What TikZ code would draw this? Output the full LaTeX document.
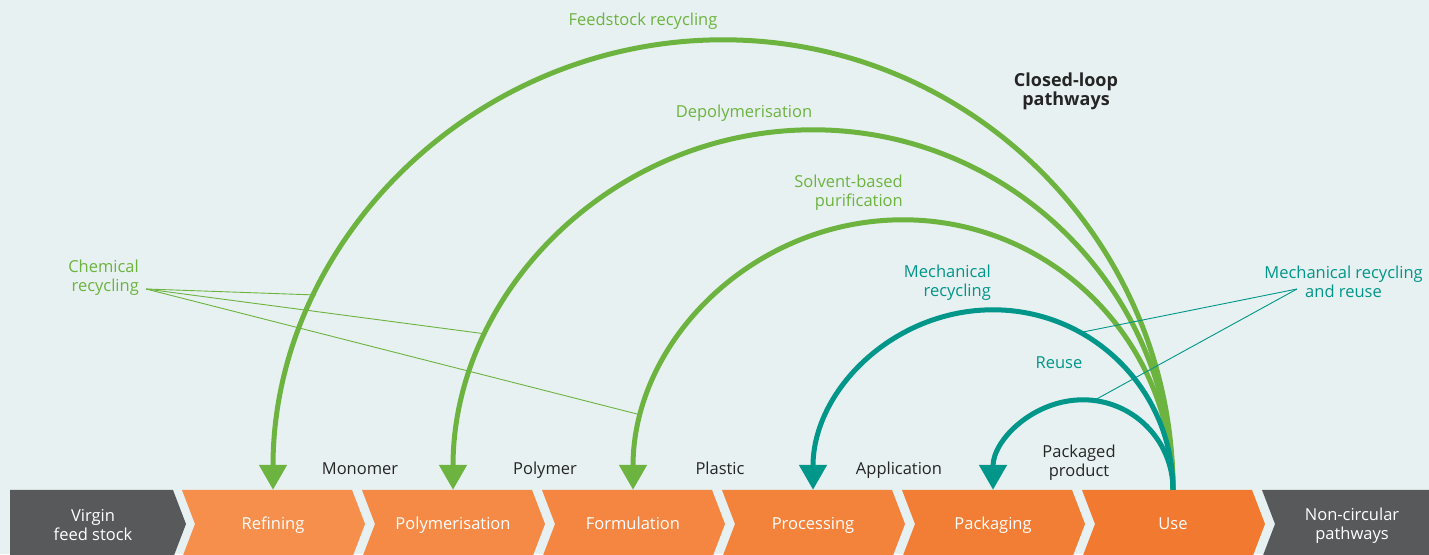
\documentclass[tikz,border=0pt]{standalone}
\usepackage{fontspec}
\setmainfont{Open Sans}
\usepackage{tikz}
\usetikzlibrary{arrows.meta}

\definecolor{bgc}{HTML}{E7F1F1}
\definecolor{grn}{HTML}{6DB33F}
\definecolor{tealc}{HTML}{009689}
\definecolor{darkg}{HTML}{58595B}
\definecolor{txt}{HTML}{262526}
\definecolor{or1}{HTML}{F68E4C}
\definecolor{or2}{HTML}{F58A46}
\definecolor{or3}{HTML}{F48641}
\definecolor{or4}{HTML}{F3823B}
\definecolor{or5}{HTML}{F27D34}
\definecolor{or6}{HTML}{F27A30}

\begin{document}
\begin{tikzpicture}[x=1pt,y=1pt,
  lbl/.style={font=\fontsize{16.5}{19}\selectfont, inner sep=0pt, align=center},
  steptext/.style={lbl, text=white, minimum height=68pt},
  oneline/.style={text height=14pt, text depth=2pt},
  loop/.style={line width=5pt, -{Triangle[length=25pt,width=27pt]}},
  lead/.style={line width=0.9pt}]
% \clip (0,0) rectangle (1429,554);
\useasboundingbox (0,0) rectangle (1429,554);
\fill [bgc] (0,0) rectangle (1429,554);
%% chevrons
\fill [darkg] (10,64) -- (173,64) -- (186,30) -- (173,-4) -- (10,-4) -- cycle;
\node [steptext] (virgin) at (93,28.5) {Virgin\\feed stock};
\foreach \x/\c/\n/\t in {182/or1/refining/Refining, 362/or2/polym/Polymerisation,
    542/or3/formul/Formulation, 722/or4/process/Processing,
    902/or5/packag/Packaging, 1082/or6/use/Use} {
  \fill [\c] (\x,64) -- ++(170,0) -- ++(13,-34) -- ++(-13,-34) -- ++(-170,0) -- ++(13,34) -- cycle;
  \node [steptext, oneline] (\n) at (\x+91,30) {\t};
}
\fill [darkg] (1262,64) -- (1435,64) -- (1435,-4) -- (1262,-4) -- (1275,30) -- cycle;
\node [steptext] (noncirc) at (1352,28.5) {Non-circular\\pathways};
%% intermediate products
\node [lbl, text=txt, anchor=base] (monomer) at (360,79) {Monomer};
\node [lbl, text=txt, anchor=base] (polymer) at (545,79) {Polymer};
\node [lbl, text=txt, anchor=base] (plastic) at (720,79) {Plastic};
\node [lbl, text=txt, anchor=base] (applic) at (899,79) {Application};
\node [lbl, text=txt] (packprod) at (1079,91.5) {Packaged\\product};
%% loops: half circles from Use back to each step
\draw [grn, loop] (use.north) arc[start angle=0, end angle=180, radius=450pt]; % to refining
\draw [grn, loop] (use.north) arc[start angle=0, end angle=180, radius=360pt]; % to polym
\draw [grn, loop] (use.north) arc[start angle=0, end angle=180, radius=270pt]; % to formul
\draw [tealc, loop] (use.north) arc[start angle=0, end angle=180, radius=180pt]; % to process
\draw [tealc, loop] (use.north) arc[start angle=0, end angle=180, radius=90pt]; % to packag
%% loop labels
\node [lbl, text=grn] (feedstock) at (643,533) {Feedstock recycling};
\node [lbl, text=grn] (depoly) at (744,441) {Depolymerisation};
\node [lbl, text=grn, anchor=east, align=right] (solvent) at (903,361.5) {Solvent-based\\purification};
\node [lbl, text=tealc, anchor=east, align=right] (mechrec) at (991,271.5) {Mechanical\\recycling};
\node [lbl, text=tealc] (reuse) at (1059,191) {Reuse};
\node [lbl, text=txt, font=\fontsize{18}{19}\selectfont\bfseries] (closed) at (1066,462.5) {Closed-loop\\pathways};
%% leader lines
\node [lbl, text=grn, anchor=east, align=right] (chemrec) at (139,276.5) {Chemical\\recycling};
\coordinate (chemfrom) at (146,265);
\coordinate (onfeed) at (316,259);
\coordinate (ondepoly) at (486,220);
\coordinate (onsolv) at (641,139);
\draw [grn, lead] (chemfrom) -- (onfeed);
\draw [grn, lead] (chemfrom) -- (ondepoly);
\draw [grn, lead] (chemfrom) -- (onsolv);
\node [lbl, text=tealc] (mechreuse) at (1343.5,272.5) {Mechanical recycling\\and reuse};
\coordinate (mrfrom) at (1297,265);
\coordinate (onmech) at (1083,222);
\coordinate (onreuse) at (1093,153);
\draw [tealc, lead] (mrfrom) -- (onmech);
\draw [tealc, lead] (mrfrom) -- (onreuse);
\end{tikzpicture}
\end{document}
